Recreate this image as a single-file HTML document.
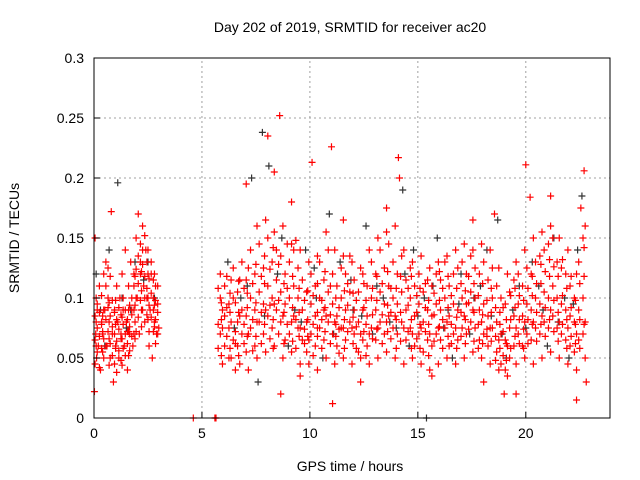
<!DOCTYPE html>
<html><head><meta charset="utf-8"><style>
body{margin:0;background:#fff}
svg{display:block;font-family:"Liberation Sans",sans-serif}
</style></head><body>
<svg id="chart" width="640" height="480" viewBox="0 0 640 480">
<rect width="640" height="480" fill="#fff"/>
<text x="350" y="32" font-size="14" text-anchor="middle">Day 202 of 2019, SRMTID for receiver ac20</text>
<text x="350" y="471" font-size="14" text-anchor="middle">GPS time / hours</text>
<text transform="translate(19,238) rotate(-90)" font-size="14" text-anchor="middle">SRMTID / TECUs</text>
<g id="grid"></g>
<g id="marks"></g>
<rect x="94" y="58" width="516" height="360" fill="none" stroke="#000" stroke-width="1"/>
<g id="ticks"></g>
</svg>
<script>
const xTicks=[0,5,10,15,20];
const yTicks=[0,0.05,0.1,0.15,0.2,0.25,0.3];
const yTickLabels=["0","0.05","0.1","0.15","0.2","0.25","0.3"];
const redPoints=[
[0.02,0.022],[0.05,0.15],[0.08,0.07],[0.12,0.05],[0.15,0.09],[0.2,0.06],[0.25,0.11],[0.3,0.04],[0.35,0.08],[0.4,0.07],[0.45,0.12],[0.5,0.09],[0.55,0.13],[0.6,0.06],[0.65,0.1],[0.7,0.08],[0.75,0.05],[0.8,0.172],[0.85,0.07],[0.9,0.03],[0.95,0.09],[1.0,0.06],[1.05,0.11],[1.1,0.08],[1.15,0.05],[1.2,0.1],[1.25,0.07],[1.3,0.12],[1.35,0.09],[1.4,0.06],[1.45,0.14],[1.5,0.08],[1.55,0.04],[1.6,0.11],[1.65,0.07],[1.7,0.13],[1.75,0.09],[1.8,0.06],[1.85,0.12],[1.9,0.08],[1.95,0.15],[2.0,0.1],[2.05,0.17],[2.1,0.07],[2.15,0.13],[2.2,0.09],[2.25,0.16],[2.3,0.11],[2.35,0.08],[2.4,0.14],[2.45,0.1],[2.5,0.12],[2.55,0.06],[2.6,0.09],[2.65,0.13],[2.7,0.05],[2.75,0.1],[2.8,0.08],[2.85,0.11],[2.9,0.07],[2.95,0.095],[3.0,0.075],
[4.6,0.0],[5.6,0.0],[5.65,0.0],
[7.05,0.195],[8.05,0.235],[8.35,0.205],[8.6,0.252],[9.15,0.18],[10.1,0.213],[11.0,0.226],[11.55,0.165],[13.55,0.175],[14.1,0.217],[14.15,0.2],[17.55,0.165],[18.55,0.17],[20.0,0.211],[20.2,0.184],[21.15,0.185],[22.7,0.206],[22.55,0.175],[6.55,0.04],[8.65,0.02],[9.55,0.035],[11.05,0.012],[12.35,0.03],[15.65,0.035],[18.05,0.03],[19.0,0.02],[19.55,0.02],[22.35,0.015],[22.8,0.03]
];
/* rows: time, then several values observed around that time */
const redClusters=[
[0.05,0.065,0.085,0.045],[0.15,0.075,0.055,0.095],[0.25,0.068,0.088,0.042],[0.35,0.078,0.058,0.102],[0.45,0.066,0.09,0.05],[0.55,0.082,0.06,0.11],[0.65,0.072,0.092,0.125],[0.75,0.062,0.085,0.118],[0.85,0.076,0.052,0.098],[0.95,0.07,0.045,0.088],[1.05,0.064,0.082,0.038],[1.15,0.074,0.092,0.056],[1.25,0.066,0.086,0.048],[1.35,0.078,0.1,0.058],[1.45,0.07,0.052,0.09],[1.55,0.082,0.062,0.072],[1.65,0.076,0.094,0.056],[1.75,0.068,0.086,0.1],[1.85,0.09,0.07,0.11],[1.95,0.072,0.1,0.124],[2.05,0.084,0.112,0.135],[2.15,0.098,0.12,0.145],[2.25,0.09,0.128,0.14],[2.35,0.1,0.118,0.152],[2.45,0.086,0.108,0.13],[2.55,0.094,0.116,0.072],[2.65,0.084,0.104,0.12],[2.75,0.09,0.072,0.115],[2.85,0.082,0.098,0.062],[2.95,0.088,0.11,0.07],
[5.85,0.07,0.1,0.12],[6.05,0.06,0.085,0.11],[6.25,0.075,0.095,0.05],[6.45,0.065,0.1,0.125],[6.65,0.08,0.06,0.105],[6.85,0.07,0.09,0.13],[7.05,0.055,0.085,0.115],[7.25,0.075,0.1,0.14],[7.45,0.06,0.09,0.12],[7.65,0.08,0.105,0.145],[7.85,0.07,0.095,0.125],[8.05,0.085,0.11,0.15],[8.25,0.075,0.1,0.13],[8.45,0.09,0.115,0.14],[8.65,0.08,0.105,0.135],[8.85,0.065,0.095,0.12],[9.05,0.07,0.1,0.13],[9.25,0.085,0.11,0.14],[9.45,0.075,0.1,0.125],[9.65,0.065,0.09,0.115],[9.85,0.055,0.08,0.105],[10.05,0.07,0.095,0.12],[10.25,0.06,0.085,0.11],[10.45,0.075,0.1,0.13],[10.65,0.065,0.09,0.115],[10.85,0.08,0.105,0.14],[11.05,0.07,0.095,0.12],[11.25,0.06,0.085,0.11],[11.45,0.075,0.1,0.125],[11.65,0.065,0.09,0.12],[11.85,0.08,0.105,0.135],[12.05,0.07,0.09,0.115],[12.25,0.055,0.08,0.105],[12.45,0.065,0.09,0.12],[12.65,0.06,0.085,0.11],[12.85,0.075,0.1,0.13],[13.05,0.065,0.09,0.12],[13.25,0.08,0.105,0.14],[13.45,0.07,0.095,0.125],[13.65,0.085,0.11,0.145],[13.85,0.075,0.1,0.13],[14.05,0.07,0.095,0.12],[14.25,0.08,0.105,0.135],[14.45,0.065,0.09,0.115],[14.65,0.075,0.1,0.125],[14.85,0.06,0.085,0.11],[15.05,0.07,0.095,0.12],[15.25,0.055,0.08,0.105],[15.45,0.065,0.09,0.115],[15.65,0.06,0.085,0.11],[15.85,0.07,0.095,0.12],[16.05,0.065,0.09,0.115],[16.25,0.075,0.1,0.13],[16.45,0.06,0.085,0.11],[16.65,0.07,0.095,0.12],[16.85,0.065,0.09,0.125],[17.05,0.075,0.1,0.13],[17.25,0.07,0.095,0.12],[17.45,0.08,0.105,0.135],[17.65,0.075,0.1,0.125],[17.85,0.065,0.09,0.12],[18.05,0.07,0.095,0.13],[18.25,0.06,0.085,0.115],[18.45,0.075,0.1,0.125],[18.65,0.055,0.08,0.11],[18.85,0.045,0.07,0.1],[19.05,0.04,0.065,0.095],[19.25,0.05,0.075,0.105],[19.45,0.06,0.085,0.115],[19.65,0.07,0.095,0.12],[19.85,0.06,0.085,0.11],[20.05,0.07,0.095,0.125],[20.25,0.065,0.09,0.12],[20.45,0.075,0.1,0.13],[20.65,0.07,0.095,0.135],[20.85,0.08,0.105,0.14],[21.05,0.075,0.1,0.145],[21.25,0.085,0.11,0.15],[21.45,0.075,0.1,0.13],[21.65,0.07,0.095,0.125],[21.85,0.065,0.09,0.12],[22.05,0.06,0.085,0.11],[22.25,0.055,0.08,0.1],[22.45,0.065,0.09,0.13],[22.65,0.07,0.1,0.15],
[5.95,0.045,0.09,0.075],[6.35,0.05,0.115,0.08],[6.75,0.045,0.085,0.115],[7.15,0.04,0.07,0.125],[7.55,0.05,0.08,0.16],[7.95,0.055,0.09,0.165],[8.35,0.06,0.095,0.155],[8.75,0.05,0.085,0.16],[9.15,0.055,0.08,0.145],[9.55,0.045,0.075,0.14],[9.95,0.045,0.065,0.13],[10.35,0.04,0.075,0.135],[10.75,0.05,0.085,0.155],[11.15,0.045,0.08,0.14],[11.55,0.05,0.075,0.135],[11.95,0.045,0.075,0.13],[12.35,0.05,0.07,0.125],[12.75,0.045,0.07,0.14],[13.15,0.05,0.075,0.15],[13.55,0.055,0.08,0.155],[13.95,0.05,0.085,0.16],[14.35,0.045,0.075,0.14],[14.75,0.05,0.07,0.13],[15.15,0.045,0.075,0.135],[15.55,0.04,0.07,0.125],[15.95,0.045,0.075,0.13],[16.35,0.05,0.08,0.135],[16.75,0.045,0.075,0.14],[17.15,0.05,0.085,0.145],[17.55,0.055,0.09,0.14],[17.95,0.05,0.08,0.145],[18.35,0.045,0.075,0.14],[18.75,0.04,0.065,0.125],[19.15,0.035,0.06,0.12],[19.55,0.045,0.075,0.13],[19.95,0.05,0.08,0.14],[20.35,0.045,0.08,0.15],[20.75,0.05,0.085,0.155],[21.15,0.055,0.09,0.16],[21.55,0.05,0.08,0.15],[21.95,0.045,0.075,0.14],[22.35,0.04,0.07,0.12],[22.75,0.05,0.08,0.16]
];
/* extra dense-band readings */
const redDense=[
[5.75,0.078,0.108,0.058],[5.9,0.082,0.052,0.096],[6.15,0.068,0.092,0.118],[6.3,0.058,0.104,0.088],[6.55,0.072,0.096,0.062],[6.7,0.088,0.114,0.052],[6.95,0.062,0.078,0.108],[7.1,0.092,0.068,0.104],[7.35,0.082,0.056,0.112],[7.5,0.068,0.096,0.128],[7.75,0.062,0.088,0.118],[7.9,0.078,0.112,0.135],[8.15,0.066,0.094,0.124],[8.3,0.082,0.058,0.142],[8.55,0.07,0.098,0.128],[8.8,0.088,0.062,0.112],[8.95,0.078,0.108,0.145],[9.2,0.064,0.092,0.118],[9.35,0.058,0.082,0.148],[9.5,0.068,0.088,0.108],[9.75,0.074,0.062,0.098],[9.9,0.082,0.106,0.068],[10.15,0.052,0.078,0.102],[10.35,0.068,0.088,0.112],[10.55,0.058,0.082,0.098],[10.7,0.072,0.092,0.122],[10.95,0.062,0.086,0.11],[11.2,0.078,0.1,0.068],[11.35,0.054,0.074,0.092],[11.6,0.082,0.106,0.058],[11.75,0.072,0.094,0.112],[12.0,0.062,0.084,0.104],[12.15,0.076,0.098,0.058],[12.5,0.072,0.092,0.112],[12.6,0.052,0.078,0.098],[12.9,0.066,0.086,0.108],[13.1,0.074,0.098,0.118],[13.35,0.062,0.086,0.112],[13.6,0.072,0.094,0.122],[13.75,0.066,0.088,0.108],[14.0,0.058,0.082,0.108],[14.2,0.064,0.088,0.118],[14.55,0.072,0.094,0.108],[14.7,0.058,0.082,0.118],[14.95,0.066,0.088,0.102],[15.1,0.058,0.078,0.108],[15.35,0.072,0.092,0.112],[15.5,0.052,0.078,0.098],[15.75,0.064,0.086,0.104],[16.0,0.076,0.098,0.122],[16.15,0.058,0.082,0.108],[16.4,0.068,0.092,0.118],[16.55,0.078,0.102,0.062],[16.8,0.058,0.084,0.108],[17.0,0.068,0.088,0.112],[17.2,0.082,0.106,0.062],[17.35,0.074,0.096,0.118],[17.6,0.064,0.088,0.112],[17.8,0.078,0.102,0.058],[18.0,0.062,0.086,0.112],[18.2,0.074,0.098,0.068],[18.4,0.064,0.088,0.108],[18.6,0.068,0.092,0.048],[18.8,0.058,0.078,0.088],[18.95,0.052,0.072,0.092],[19.1,0.062,0.082,0.048],[19.3,0.058,0.082,0.102],[19.5,0.068,0.092,0.108],[19.7,0.062,0.082,0.102],[19.9,0.074,0.098,0.058],[20.1,0.062,0.082,0.108],[20.3,0.078,0.102,0.118],[20.5,0.064,0.088,0.112],[20.7,0.078,0.112,0.128],[20.9,0.068,0.092,0.122],[21.1,0.082,0.118,0.132],[21.3,0.072,0.098,0.126],[21.5,0.064,0.088,0.118],[21.7,0.078,0.102,0.132],[21.9,0.058,0.082,0.108],[22.1,0.068,0.092,0.118],[22.3,0.062,0.078,0.098],[22.5,0.058,0.082,0.112],[22.7,0.078,0.118,0.142],
[0.1,0.08,0.06,0.1],[0.4,0.085,0.055,0.072],[0.7,0.066,0.096,0.044],[1.0,0.078,0.058,0.098],[1.3,0.084,0.066,0.044],[1.6,0.072,0.09,0.052],[1.9,0.066,0.094,0.118],[2.2,0.076,0.106,0.122],[2.5,0.1,0.082,0.14],[2.8,0.094,0.076,0.12]
];
const blackPoints=[
[0.1,0.12],[0.7,0.14],[1.1,0.196],[1.3,0.1],[1.9,0.13],[2.3,0.115],[2.8,0.1],[0.5,0.06],[1.7,0.09],
[6.2,0.13],[6.8,0.1],[7.3,0.2],[7.8,0.238],[8.1,0.21],[8.7,0.15],[9.3,0.09],[9.8,0.14],[10.3,0.1],[10.9,0.17],[11.4,0.13],[12.0,0.09],[12.6,0.16],[13.1,0.11],[13.7,0.08],[14.3,0.19],[14.8,0.14],[15.3,0.1],[15.4,0.0],[15.9,0.15],[16.4,0.09],[17.0,0.12],[17.6,0.1],[18.2,0.14],[18.7,0.165],[19.1,0.05],[19.7,0.11],[20.3,0.13],[20.8,0.09],[21.3,0.15],[21.8,0.1],[22.4,0.14],[22.6,0.185],[7.6,0.03],[9.0,0.06],[10.6,0.05],[12.9,0.07],[14.6,0.06],[16.6,0.05],[18.9,0.07],[21.0,0.06],[22.0,0.05],
[6.5,0.075],[7.1,0.11],[7.9,0.085],[8.5,0.12],[9.6,0.08],[10.2,0.125],[11.1,0.07],[11.9,0.115],[12.4,0.085],[13.4,0.1],[14.0,0.075],[14.4,0.12],[15.0,0.085],[15.7,0.11],[16.2,0.075],[16.9,0.095],[17.4,0.07],[17.9,0.11],[18.4,0.085],[19.4,0.09],[20.0,0.075],[20.6,0.11],[21.5,0.08],[22.2,0.095],[0.3,0.09],[1.5,0.075],[2.5,0.13]
];
const NS="http://www.w3.org/2000/svg";
const X0=94,X1=610,Y0=418,Y1=58,XMAX=23.9,YMAX=0.3;
function xs(t){return X0+(X1-X0)*t/XMAX;}
function ys(v){return Y0-(Y0-Y1)*v/YMAX;}
const grid=document.getElementById('grid'),ticks=document.getElementById('ticks'),marks=document.getElementById('marks');
function mk(tag,at,parent){const e=document.createElementNS(NS,tag);for(const k in at)e.setAttribute(k,at[k]);parent.appendChild(e);return e;}
xTicks.forEach(t=>{
  const x=xs(t);
  if(t>0){const g=mk('line',{x1:x,y1:Y0,x2:x,y2:Y1,stroke:'#a0a0a0','stroke-dasharray':'2,3'},grid);
  
  }
  const l=mk('line',{x1:x,y1:Y0,x2:x,y2:Y0-6,stroke:'#000'},ticks);
  
  
  const tx=mk('text',{x:x,y:Y0+20,'font-size':14,'text-anchor':'middle'},ticks);tx.textContent=t;
  
  
});
yTicks.forEach((v,i)=>{
  const y=ys(v);
  if(v>0&&v<0.3){const g=mk('line',{x1:X0,y1:y,x2:X1,y2:y,stroke:'#a0a0a0','stroke-dasharray':'2,3'},grid);
  
  }
  const l=mk('line',{x1:X0,y1:y,x2:X0+6,y2:y,stroke:'#000'},ticks);
  
  
  const tx=mk('text',{x:X0-10,y:y+5,'font-size':14,'text-anchor':'end'},ticks);tx.textContent=yTickLabels[i];
  
  
});
function plus(t,v,color,name){
  const x=xs(t),y=ys(v);
  const e=mk('path',{d:`M${x-3.5},${y}H${x+3.5}M${x},${y-3.5}V${y+3.5}`,stroke:color,'stroke-width':1.2,fill:'none'},marks);
  
  
}
blackPoints.forEach(p=>plus(p[0],p[1],'#333','black-point'));
redPoints.forEach(p=>plus(p[0],p[1],'#ff0000','red-point'));
redClusters.forEach(r=>{for(let i=1;i<r.length;i++)plus(r[0],r[i],'#ff0000','red-point');});
redDense.forEach(r=>{for(let i=1;i<r.length;i++)plus(r[0],r[i],'#ff0000','red-point');});
</script>
</body></html>
